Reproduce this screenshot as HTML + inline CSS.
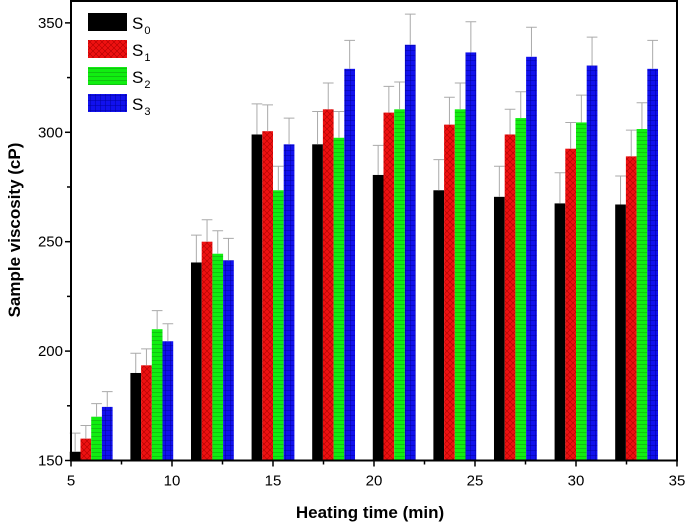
<!DOCTYPE html>
<html><head><meta charset="utf-8"><style>
html,body{margin:0;padding:0;background:#fff;}
svg{display:block;font-family:"Liberation Sans",Arial,sans-serif;}
</style></head><body>
<svg id="chart" width="685" height="528" viewBox="0 0 685 528">
<defs>
<pattern id="pRed" width="6" height="6" patternUnits="userSpaceOnUse"><rect width="6" height="6" fill="#ee1111"/><path d="M0 0L6 6M6 0L0 6" stroke="#b00000" stroke-width="0.6"/></pattern>
<pattern id="pGreen" width="4" height="4" patternUnits="userSpaceOnUse"><rect width="4" height="4" fill="#11ee11"/><path d="M0 0.5H4" stroke="#119911" stroke-width="0.5"/></pattern>
<pattern id="pBlue" width="5" height="5" patternUnits="userSpaceOnUse"><rect width="5" height="5" fill="#1111ee"/><path d="M0 0.5H5M0.5 0V5" stroke="#0000a0" stroke-width="0.5"/></pattern>
</defs>
<g id="bars"></g>
<g id="axes"></g>
<g id="legend"></g>
<text x="370" y="518" text-anchor="middle" font-size="17" font-weight="bold">Heating time (min)</text>
<text transform="translate(20,230) rotate(-90)" text-anchor="middle" font-size="17" font-weight="bold">Sample viscosity (cP)</text>
</svg>
<script>
const categories = [6, 9, 12, 15, 18, 21, 24, 27, 30, 33];
const seriesNames = ["S0", "S1", "S2", "S3"];
const s0 = [154, 190, 240.5, 299, 294.5, 280.5, 273.5, 270.5, 267.5, 267];
const s1 = [160, 193.5, 250, 300.5, 310.5, 309, 303.5, 299, 292.5, 289];
const s2 = [170, 210, 244.5, 273.5, 297.5, 310.5, 310.5, 306.5, 304.5, 301.5];
const s3 = [174.5, 204.5, 241.5, 294.5, 329, 340, 336.5, 334.5, 330.5, 329];
const e0 = [8.5, 9, 12.5, 14, 15, 13.5, 14, 14, 14, 13];
const e1 = [6, 7.5, 10, 12, 12, 12, 12.5, 11.5, 12, 12];
const e2 = [6, 8.5, 10.5, 11, 12, 12.5, 12, 12, 12.5, 12];
const e3 = [7, 8, 10, 12, 13, 14, 14, 13.5, 13, 13];
const xTicks = [5, 10, 15, 20, 25, 30, 35];
const yTicks = [150, 200, 250, 300, 350];

const NS = "http://www.w3.org/2000/svg";
const X0 = 71, X1 = 677, Y0 = 460.5, Y1 = 1;
const xMin = 5, xMax = 35, yMin = 150, yMax = 360;
const xs = v => X0 + (v - xMin) / (xMax - xMin) * (X1 - X0);
const ys = v => Y0 - (v - yMin) / (yMax - yMin) * (Y0 - Y1);
const series = [s0, s1, s2, s3];
const errs = [e0, e1, e2, e3];
const fills = ["#000000", "url(#pRed)", "url(#pGreen)", "url(#pBlue)"];
const bw = 0.53;
function mk(tag, attrs, parent) {
  const el = document.createElementNS(NS, tag);
  for (const k in attrs) el.setAttribute(k, attrs[k]);
  parent.appendChild(el);
  return el;
}
const gb = document.getElementById("bars");
categories.forEach((c, i) => {
  series.forEach((s, j) => {
    const left = c + (j - 2) * bw;
    const xa = xs(left), xb = xs(left + bw);
    const r = mk("rect", {x: xa, y: ys(s[i]), width: xb - xa, height: Y0 - ys(s[i]), fill: fills[j]}, gb);
    
    
    const cx = (xa + xb) / 2, ty = ys(s[i] + errs[j][i]);
    const e = mk("path", {d: `M${cx} ${ys(s[i])}V${ty}M${xa} ${ty}H${xb}`, stroke: "#aaaaaa", "stroke-width": 1, fill: "none"}, gb);
    
    
  });
});
const ga = document.getElementById("axes");
const frame = mk("rect", {x: X0, y: Y1, width: X1 - X0, height: Y0 - Y1, fill: "none", stroke: "#000", "stroke-width": 2}, ga);


xTicks.forEach((t, k) => {
  const x = xs(t);
  mk("line", {x1: x, x2: x, y1: Y0, y2: Y0 + 6, stroke: "#000", "stroke-width": 1.5}, ga);
  if (k < xTicks.length - 1) { const xm = xs(t + 2.5); mk("line", {x1: xm, x2: xm, y1: Y0, y2: Y0 + 4, stroke: "#000", "stroke-width": 1.5}, ga); }
  const tx = mk("text", {x: x, y: Y0 + 25, "text-anchor": "middle", "font-size": 15}, ga);
  tx.textContent = t;
  
  
});
yTicks.forEach((t, k) => {
  const y = ys(t);
  mk("line", {x1: X0 - 6, x2: X0, y1: y, y2: y, stroke: "#000", "stroke-width": 1.5}, ga);
  const ym = ys(t + 25);
  if (ym > Y1) mk("line", {x1: X0 - 4, x2: X0, y1: ym, y2: ym, stroke: "#000", "stroke-width": 1.5}, ga);
  const ty = mk("text", {x: X0 - 8, y: y + 5, "text-anchor": "end", "font-size": 15}, ga);
  ty.textContent = t;
  
  
});
const gl = document.getElementById("legend");
seriesNames.forEach((n, j) => {
  const y = 13 + j * 27;
  const sw = mk("rect", {x: 88, y: y, width: 39, height: 18, fill: fills[j]}, gl);
  
  
  const t = mk("text", {x: 132, y: y + 16, "font-size": 17}, gl);
  
  
  t.textContent = "S";
  const sub = mk("tspan", {"font-size": 11, dy: 5, dx: 1}, t);
  sub.textContent = n.slice(1);
});
</script>
</body></html>
